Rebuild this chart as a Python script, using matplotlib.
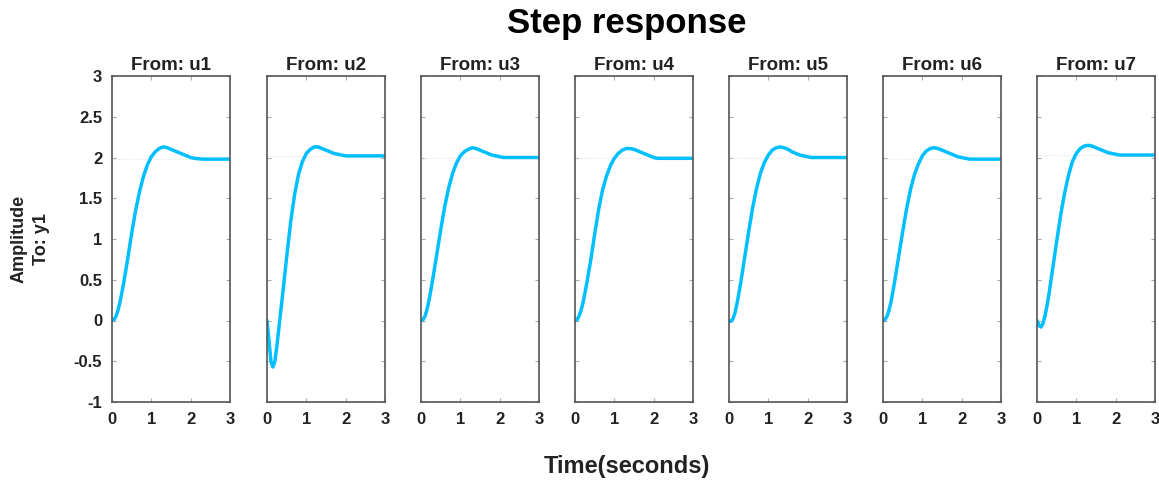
import matplotlib.pyplot as plt
import numpy as np

plt.rcParams['font.family'] = ['Liberation Sans', 'DejaVu Sans']
plt.rcParams['font.weight'] = 'bold'

# time samples (seconds)
t = [0, 0.05, 0.1, 0.15, 0.2, 0.25, 0.3, 0.4, 0.5, 0.6, 0.7, 0.8, 0.9, 1.0,
     1.1, 1.2, 1.3, 1.4, 1.5, 1.6, 1.7, 1.8, 1.9, 2.0, 2.1, 2.2, 2.3, 2.4,
     2.5, 2.6, 2.7, 2.8, 2.9, 3.0]

inputs = ["u1", "u2", "u3", "u4", "u5", "u6", "u7"]

y_u1 = [0.0, 0.01, 0.05, 0.12, 0.22, 0.34, 0.47, 0.76, 1.07, 1.35, 1.58, 1.77,
        1.91, 2.01, 2.07, 2.11, 2.13, 2.12, 2.10, 2.08, 2.06, 2.04, 2.02, 2.00,
        1.99, 1.985, 1.98, 1.98, 1.98, 1.98, 1.98, 1.98, 1.98, 1.98]
y_u2 = [0.0, -0.25, -0.50, -0.57, -0.50, -0.32, -0.10, 0.33, 0.78, 1.20, 1.54,
        1.79, 1.95, 2.05, 2.10, 2.13, 2.13, 2.11, 2.09, 2.07, 2.05, 2.04, 2.03,
        2.02, 2.02, 2.02, 2.02, 2.02, 2.02, 2.02, 2.02, 2.02, 2.02, 2.02]
y_u3 = [0.0, 0.01, 0.05, 0.13, 0.24, 0.37, 0.51, 0.81, 1.11, 1.39, 1.62, 1.80,
        1.93, 2.02, 2.07, 2.10, 2.12, 2.11, 2.09, 2.07, 2.05, 2.03, 2.02, 2.01,
        2.00, 2.00, 2.00, 2.00, 2.00, 2.00, 2.00, 2.00, 2.00, 2.00]
y_u4 = [0.0, 0.01, 0.05, 0.12, 0.21, 0.33, 0.46, 0.74, 1.06, 1.36, 1.60, 1.77,
        1.90, 1.99, 2.05, 2.09, 2.11, 2.11, 2.10, 2.08, 2.06, 2.04, 2.02, 2.00,
        1.99, 1.99, 1.99, 1.99, 1.99, 1.99, 1.99, 1.99, 1.99, 1.99]
y_u5 = [0.0, -0.01, 0.02, 0.09, 0.20, 0.33, 0.47, 0.78, 1.09, 1.38, 1.62, 1.81,
        1.94, 2.03, 2.09, 2.12, 2.13, 2.12, 2.10, 2.07, 2.05, 2.03, 2.02, 2.01,
        2.00, 2.00, 2.00, 2.00, 2.00, 2.00, 2.00, 2.00, 2.00, 2.00]
y_u6 = [0.0, 0.01, 0.05, 0.12, 0.22, 0.35, 0.49, 0.79, 1.09, 1.37, 1.61, 1.79,
        1.92, 2.02, 2.08, 2.11, 2.12, 2.11, 2.09, 2.07, 2.05, 2.03, 2.01, 2.00,
        1.99, 1.98, 1.98, 1.98, 1.98, 1.98, 1.98, 1.98, 1.98, 1.98]
y_u7 = [0.0, -0.06, -0.08, -0.04, 0.05, 0.17, 0.31, 0.64, 0.97, 1.29, 1.56,
        1.78, 1.95, 2.05, 2.11, 2.14, 2.15, 2.14, 2.12, 2.10, 2.08, 2.06, 2.05,
        2.04, 2.03, 2.03, 2.03, 2.03, 2.03, 2.03, 2.03, 2.03, 2.03, 2.03]
responses = [y_u1, y_u2, y_u3, y_u4, y_u5, y_u6, y_u7]
steady = [1.98, 2.02, 2.0, 1.99, 2.0, 1.98, 2.03]

W, H = 1159, 483
fig = plt.figure(figsize=(W / 100, H / 100), dpi=100)
lefts = [112, 267, 421, 575, 729, 883, 1037]
axw, bot, top = 118, 402, 76

for i, name in enumerate(inputs):
    ax = fig.add_axes([lefts[i] / W, (H - bot) / H, axw / W, (bot - top) / H])
    ax.plot(t, [steady[i]] * len(t), color='#e2e2e2', lw=0.8, ls=':')
    ax.plot(t, responses[i], color='#00bfff', lw=2.5, solid_capstyle='round')
    ax.set_xlim(0, 3)
    ax.set_ylim(-1, 3)
    ax.set_xticks([0, 1, 2, 3])
    ax.set_yticks(np.arange(-1, 3.01, 0.5))
    ax.tick_params(direction='in', top=True, right=True, length=3,
                   color='#aaaaaa', labelsize=12, pad=7, labelcolor='#222222')
    ax.set_yticklabels(['-1', '-0.5', '0', '0.5', '1', '1.5', '2', '2.5', '3'])
    if i > 0:
        ax.tick_params(labelleft=False)
    for s in ax.spines.values():
        s.set_color('#555555')
        s.set_linewidth(1.2)
    ax.set_title("From: " + name, fontsize=13.5, fontweight='bold', pad=4,
                 color='#222222')

fig.text(627 / W, 1 - 23 / H, "Step response", ha='center', va='center',
         fontsize=25, fontweight='bold')
fig.text(627 / W, 1 - 467 / H, "Time(seconds)", ha='center', va='center',
         fontsize=17, fontweight='bold', color='#222222')
fig.text(30 / W, 1 - 239 / H, "Amplitude\nTo: y1", ha='center', va='center',
         rotation=90, fontsize=13, fontweight='bold', linespacing=1.45,
         color='#222222')

fig.savefig("out.png", dpi=100)
